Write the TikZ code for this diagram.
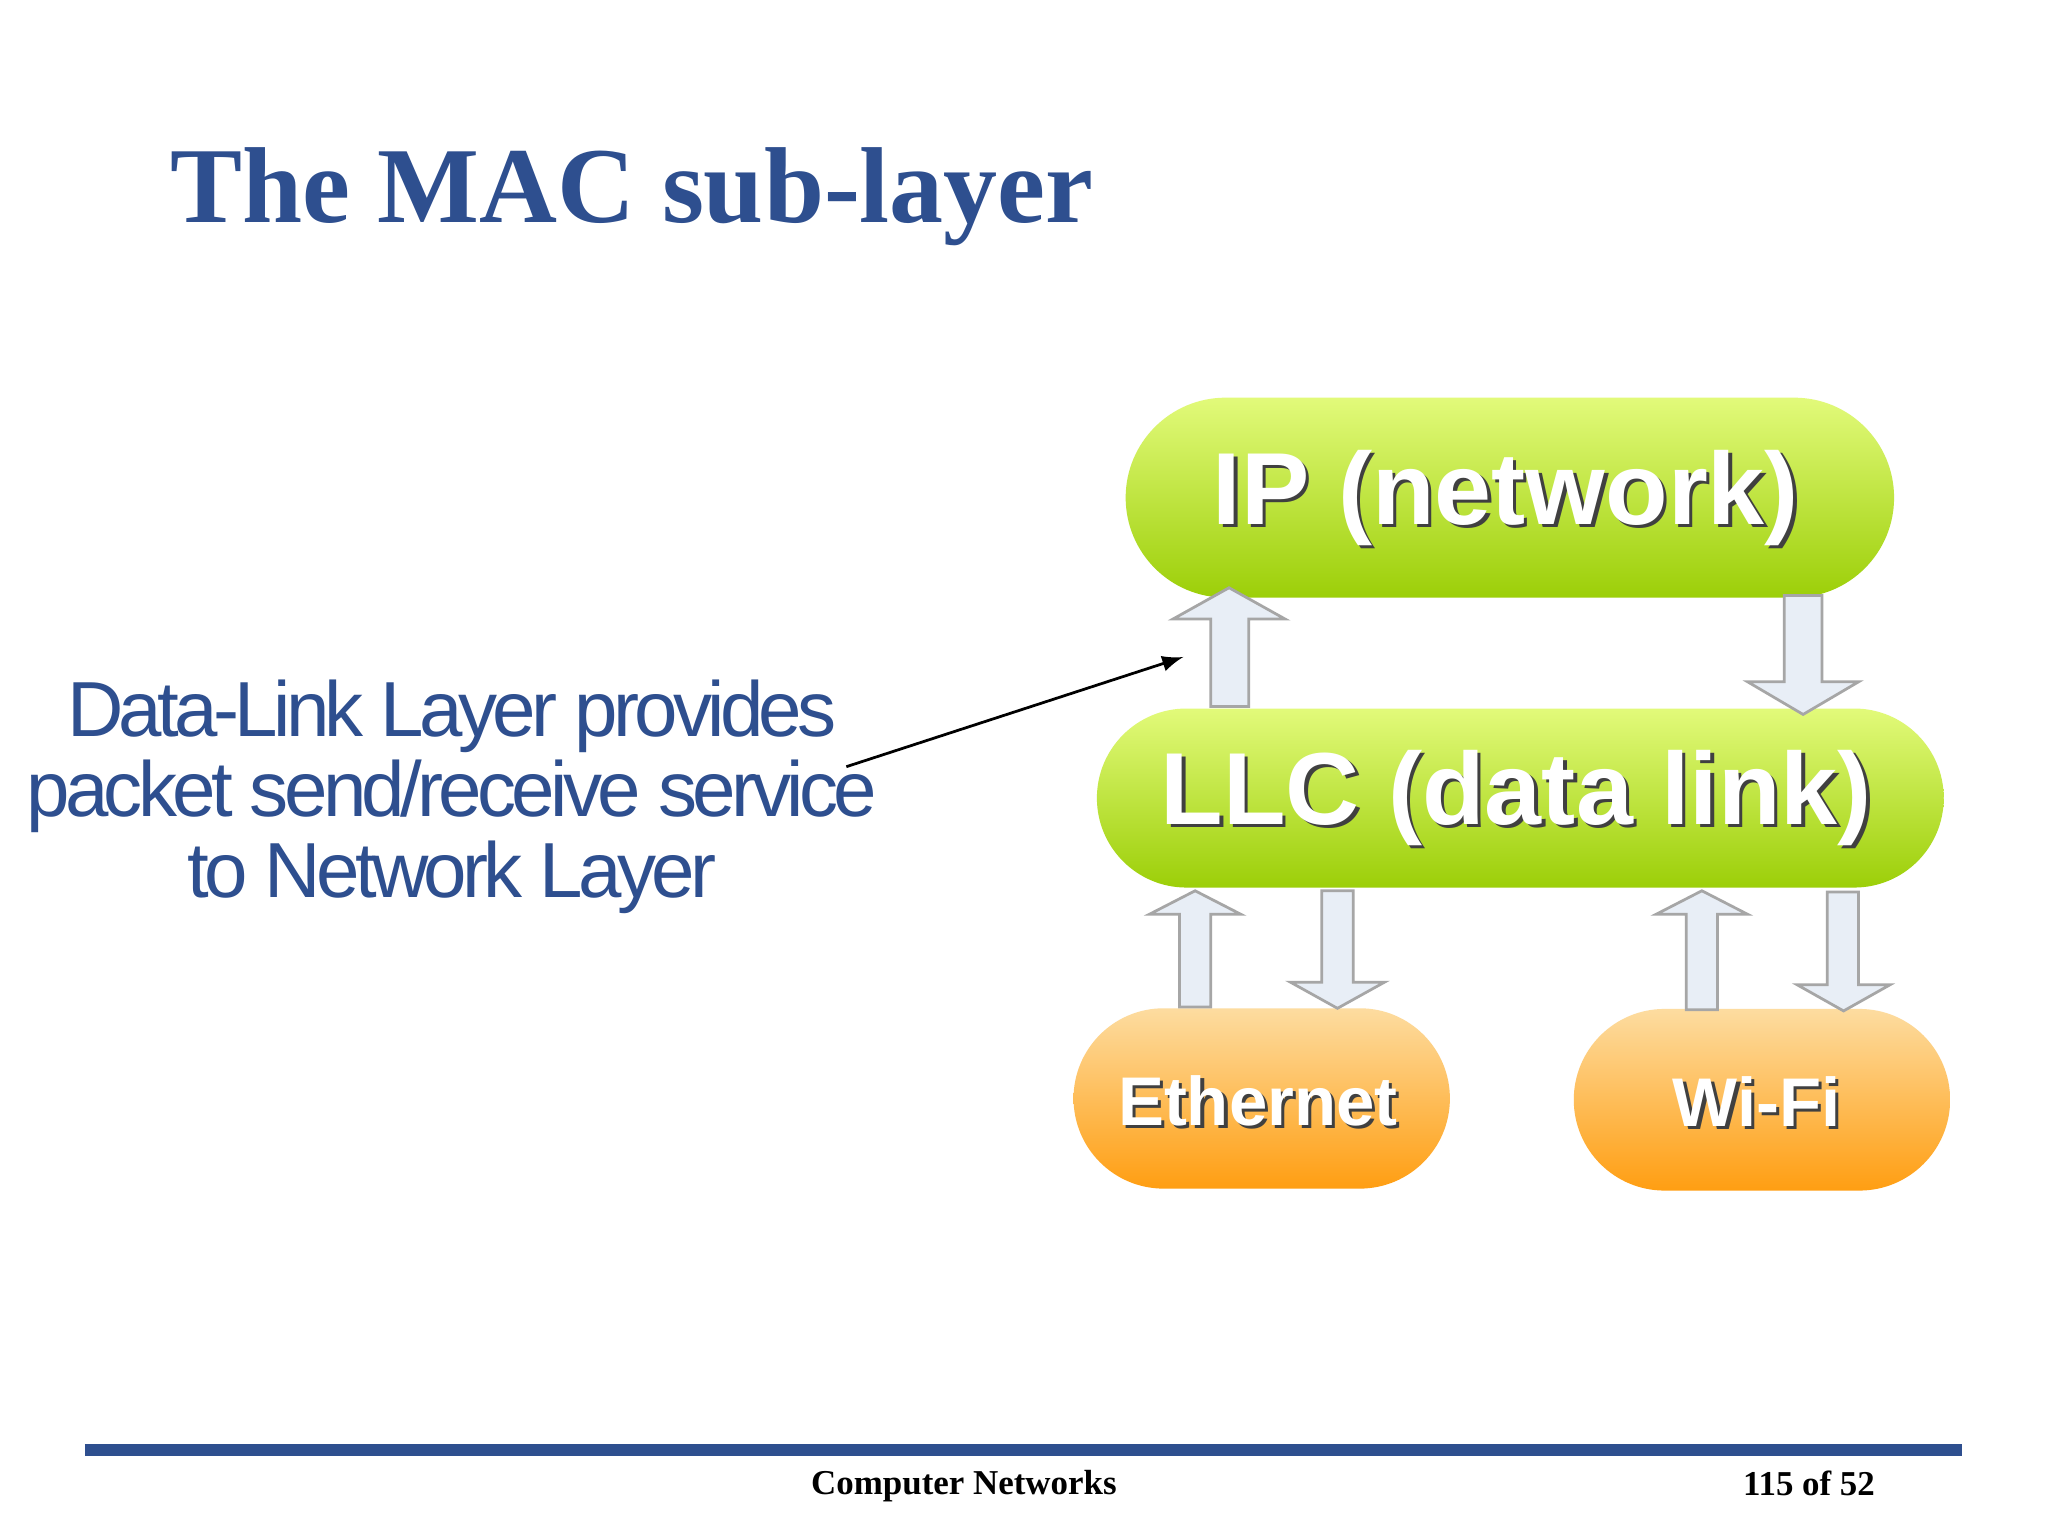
\documentclass[tikz,border=0pt]{standalone}
\usepackage{fontspec}
\setmainfont{Liberation Serif}
\newfontfamily\arialf{Liberation Sans}
\newfontfamily\arialt[LetterSpace=-6]{Liberation Sans}
\usetikzlibrary{shapes.misc,calc}
\definecolor{tblue}{HTML}{2E4F8F}
\definecolor{arrfill}{HTML}{E8EEF6}
\definecolor{gtop}{HTML}{E2FA7A}
\definecolor{gbot}{HTML}{9CCF08}
\definecolor{otop}{HTML}{FDDCA0}
\definecolor{obot}{HTML}{FF9E12}
\tikzset{
 pill/.style={rounded rectangle, draw=none, inner sep=0pt},
 greenpill/.style={pill, top color=gtop, bottom color=gbot},
 orangepill/.style={pill, top color=otop, bottom color=obot},
 blk/.style={fill=arrfill, draw=gray!70, line width=0.6pt},
 lbl/.style={text=white, font=\arialf\bfseries},
 shd/.style={text=black!75, font=\arialf\bfseries},
}
\newcommand{\uparrowblk}[7]{\draw[blk] (#1,#7) -- (#1,#6) -- (#3,#6) -- ({(#3+#4)/2},#5) -- (#4,#6) -- (#2,#6) -- (#2,#7) -- cycle;}
\newcommand{\dnarrowblk}[7]{\draw[blk] (#1,#5) -- (#1,#6) -- (#3,#6) -- ({(#3+#4)/2},#7) -- (#4,#6) -- (#2,#6) -- (#2,#5) -- cycle;}
\newcommand{\shadowtext}[4]{\node[shd,font=\arialf\bfseries\fontsize{#3}{#3}\selectfont] at ($(#1)+(2.5,2.5)$) {#4};\node[lbl,font=\arialf\bfseries\fontsize{#3}{#3}\selectfont] (#2) at (#1) {#4};}
\begin{document}
\begin{tikzpicture}[x=0.01cm,y=-0.01cm]
\useasboundingbox (0,0) rectangle (1568,1176);
\fill[white] (0,0) rectangle (1568,1176);
\node[anchor=base west, text=tblue, font=\bfseries\fontsize{23.5}{24}\selectfont] (title) at (118,170) {The MAC sub-layer};
% pills
\node[greenpill, minimum width=5.88cm, minimum height=1.53cm] (ip) at (1156,381) {};
\node[greenpill, minimum width=6.48cm, minimum height=1.37cm] (llc) at (1164,611) {};
\node[orangepill, minimum width=2.88cm, minimum height=1.38cm] (eth) at (966,841) {};
\node[orangepill, minimum width=2.88cm, minimum height=1.39cm] (wifi) at (1349,842) {};
\coordinate (ipc) at (1153,381);
\coordinate (llcc) at (1161,611);
\coordinate (ethc) at (963,843);
\coordinate (wific) at (1345,843);
\shadowtext{ipc}{iptxt}{22.3pt}{IP (network)}
\shadowtext{llcc}{llctxt}{22.3pt}{LLC (data link)}
\shadowtext{ethc}{ethtxt}{15pt}{Ethernet}
\shadowtext{wific}{wifitxt}{15pt}{Wi-Fi}
% block arrows
\uparrowblk{927}{956}{898}{984}{450}{474}{541}
\dnarrowblk{1366}{1395}{1338}{1423}{456}{522}{547}
\uparrowblk{903}{927}{880}{950}{682}{700}{771}
\dnarrowblk{1012}{1036}{988}{1060}{682}{752}{772}
\uparrowblk{1291}{1315}{1268}{1338}{682}{700}{773}
\dnarrowblk{1399}{1423}{1376}{1447}{683}{754}{774}
% left text
\node[text=tblue, align=center, font=\arialt\fontsize{17pt}{17.6pt}\selectfont] (dl) at (346,610) {Data-Link Layer provides\\packet send/receive service\\to Network Layer};
\coordinate (a1) at (648,587);
\coordinate (a2) at (906,503);
\draw[-latex, line width=0.6pt] (a1) -- (a2);
% footer
\draw[tblue, line width=2.5pt] (65,1110) coordinate (f1) -- (1502,1110) coordinate (f2);
\node[font=\bfseries\fontsize{7.6pt}{8pt}\selectfont] (cn) at (738,1138) {Computer Networks};
\node[font=\bfseries\fontsize{7.6pt}{8pt}\selectfont] (pg) at (1385,1136) {115 of 52};
\end{tikzpicture}
\end{document}
